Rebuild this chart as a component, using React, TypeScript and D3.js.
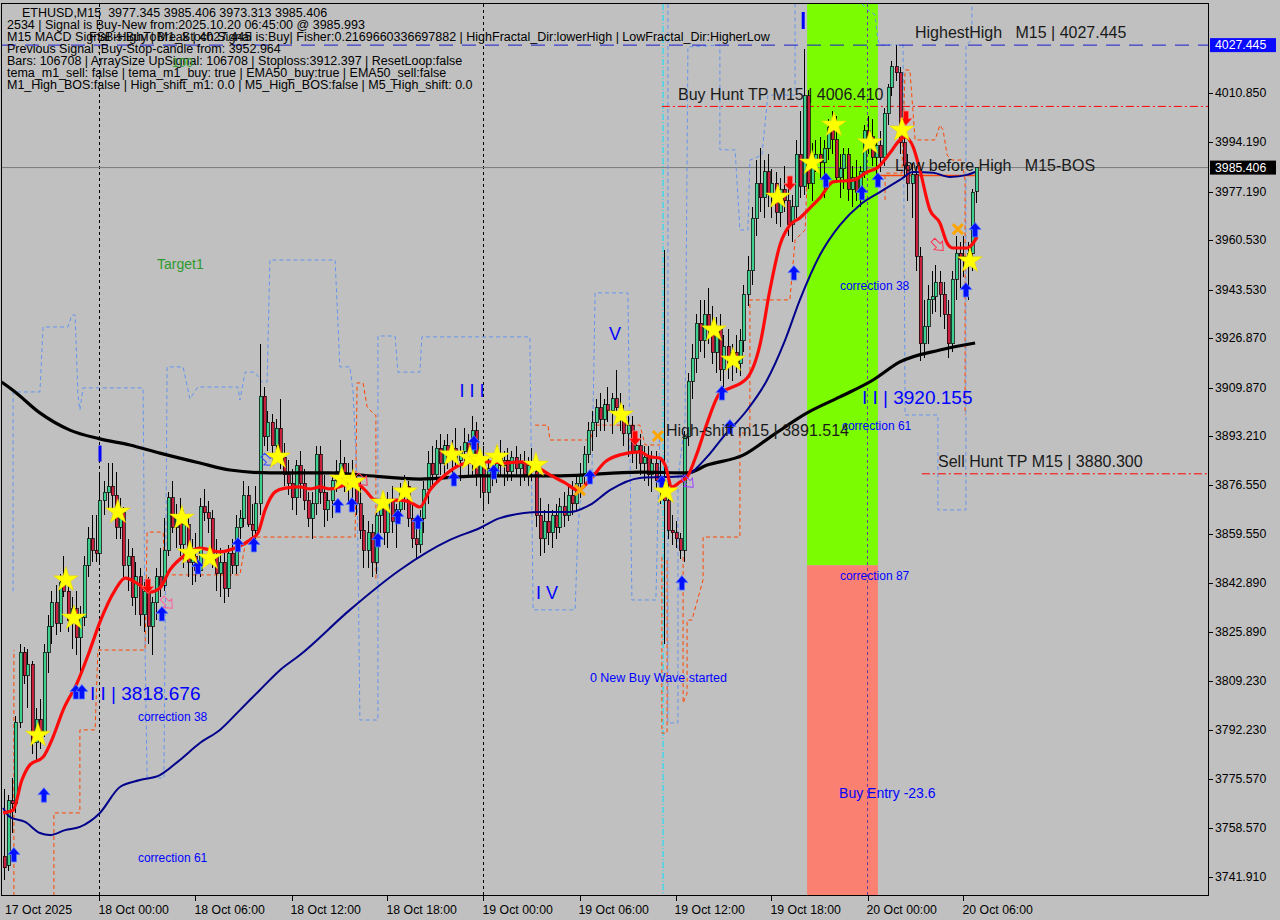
import React from "react";
import * as d3 from "d3";

// ---------- DATA ----------
type OHLC = [number, number, number, number];
const candles: OHLC[] = [
  [3749,3772,3741,3745],[3746,3770,3744,3768],[3768,3776,3757,3767],[3767,3797,3764,3795],[3795,3822,3793,3819],
  [3819,3821,3808,3811],[3811,3820,3800,3815],[3815,3816,3784,3788],[3788,3800,3782,3796],[3796,3803,3786,3792],
  [3792,3822,3790,3819],[3819,3832,3812,3828],[3828,3840,3822,3836],[3836,3842,3825,3829],[3829,3846,3826,3843],
  [3843,3852,3838,3840],[3840,3845,3826,3830],[3830,3838,3820,3834],[3834,3840,3818,3824],[3824,3835,3812,3831],
  [3831,3852,3828,3849],[3849,3862,3845,3858],[3858,3866,3850,3854],[3854,3866,3850,3853],[3853,3880,3850,3871],
  [3871,3878,3866,3874],[3874,3884,3868,3876],[3876,3884,3868,3873],[3873,3881,3858,3862],[3862,3872,3858,3867],
  [3867,3869,3845,3849],[3849,3858,3840,3852],[3852,3855,3835,3838],[3838,3850,3832,3845],[3845,3848,3828,3832],
  [3832,3843,3826,3840],[3840,3845,3822,3828],[3828,3838,3818,3836],[3836,3848,3830,3845],[3845,3855,3838,3842],
  [3842,3865,3840,3854],[3854,3874,3852,3872],[3872,3878,3860,3862],[3862,3870,3855,3866],[3866,3872,3852,3856],
  [3856,3868,3848,3863],[3863,3866,3845,3850],[3850,3858,3842,3852],[3852,3860,3843,3847],[3847,3872,3845,3869],
  [3869,3875,3864,3867],[3867,3871,3860,3865],[3865,3868,3848,3852],[3852,3858,3840,3846],[3846,3855,3838,3850],
  [3850,3853,3836,3841],[3841,3856,3838,3853],[3853,3858,3846,3849],[3849,3866,3846,3862],[3862,3868,3858,3865],
  [3865,3878,3862,3873],[3873,3876,3862,3863],[3863,3870,3856,3861],[3861,3876,3858,3870],[3870,3925,3866,3907],
  [3907,3910,3890,3893],[3893,3902,3888,3898],[3898,3901,3886,3890],[3890,3899,3884,3896],[3896,3906,3882,3886],
  [3886,3891,3876,3880],[3880,3885,3873,3877],[3877,3882,3868,3872],[3872,3885,3866,3883],[3883,3888,3872,3877],
  [3877,3882,3868,3871],[3871,3874,3862,3865],[3865,3874,3858,3870],[3870,3890,3866,3887],[3887,3890,3870,3874],
  [3874,3880,3862,3868],[3868,3874,3864,3871],[3871,3880,3865,3878],[3878,3885,3874,3881],[3881,3892,3876,3884],
  [3884,3886,3874,3877],[3877,3884,3870,3880],[3880,3885,3872,3876],[3876,3880,3866,3870],[3870,3879,3858,3861],
  [3861,3866,3848,3854],[3854,3864,3848,3860],[3860,3863,3845,3850],[3850,3868,3846,3866],[3866,3872,3860,3869],
  [3869,3872,3856,3860],[3860,3874,3855,3871],[3871,3876,3860,3864],[3864,3870,3855,3868],[3868,3877,3864,3874],
  [3874,3880,3868,3876],[3876,3878,3862,3865],[3865,3870,3855,3858],[3858,3862,3851,3856],[3856,3868,3853,3865],
  [3865,3878,3860,3875],[3875,3888,3870,3884],[3884,3890,3876,3880],[3880,3892,3877,3889],[3889,3894,3880,3884],
  [3884,3892,3880,3890],[3890,3894,3882,3886],[3886,3892,3878,3889],[3889,3896,3882,3885],[3885,3890,3878,3888],
  [3888,3896,3884,3891],[3891,3894,3880,3884],[3884,3900,3880,3895],[3895,3898,3876,3880],[3880,3888,3872,3884],
  [3884,3890,3868,3874],[3874,3886,3870,3882],[3882,3887,3876,3880],[3880,3890,3877,3886],[3886,3892,3880,3883],
  [3883,3888,3876,3885],[3885,3889,3878,3881],[3881,3888,3878,3886],[3886,3890,3880,3882],[3882,3887,3876,3884],
  [3884,3888,3878,3880],[3880,3886,3876,3883],[3883,3889,3878,3881],[3881,3885,3862,3866],[3866,3872,3852,3858],
  [3858,3868,3853,3864],[3864,3870,3856,3860],[3860,3868,3855,3866],[3866,3870,3858,3862],[3862,3872,3860,3869],
  [3869,3874,3862,3866],[3866,3876,3864,3873],[3873,3878,3866,3870],[3870,3880,3868,3877],[3877,3884,3872,3880],
  [3880,3890,3876,3887],[3887,3898,3884,3895],[3895,3902,3888,3898],[3898,3906,3893,3903],[3903,3908,3895,3899],
  [3899,3906,3895,3904],[3904,3910,3898,3902],[3902,3908,3894,3906],[3906,3916,3900,3903],[3903,3908,3895,3900],
  [3900,3904,3890,3894],[3894,3900,3886,3897],[3897,3900,3884,3888],[3888,3894,3882,3890],[3890,3894,3880,3884],
  [3884,3890,3878,3886],[3886,3890,3876,3880],[3880,3888,3874,3884],[3884,3888,3875,3878],[3878,3886,3870,3876],
  [3876,3957,3822,3871],[3871,3880,3858,3861],[3861,3866,3856,3860],[3860,3864,3855,3858],[3858,3860,3851,3854],
  [3854,3895,3850,3893],[3893,3915,3890,3912],[3912,3925,3906,3920],[3920,3935,3915,3932],[3932,3940,3922,3926],
  [3926,3940,3920,3935],[3935,3944,3925,3930],[3930,3938,3918,3922],[3922,3934,3915,3930],[3930,3935,3912,3916],
  [3916,3928,3910,3924],[3924,3930,3913,3918],[3918,3925,3912,3922],[3922,3928,3915,3918],[3918,3930,3914,3926],
  [3926,3945,3922,3942],[3942,3955,3938,3950],[3950,3972,3945,3968],[3968,3988,3962,3980],[3980,3992,3970,3975],
  [3975,3988,3968,3984],[3984,3990,3972,3976],[3976,3985,3968,3980],[3980,3984,3966,3970],[3970,3982,3965,3978],
  [3978,3986,3970,3974],[3974,3980,3962,3966],[3966,3976,3960,3972],[3972,3995,3968,3990],[3990,4005,3975,3979],
  [3979,4026,3976,4010],[4010,4012,3978,3980],[3980,3994,3974,3988],[3988,3995,3984,3990],[3990,3996,3982,3987],
  [3987,3995,3975,3992],[3992,4002,3988,3999],[3999,4005,3990,3995],[3995,4003,3980,3982],[3982,3990,3975,3985],
  [3985,3992,3978,3990],[3990,3992,3974,3978],[3978,3986,3972,3982],[3982,3988,3974,3977],[3977,3986,3972,3984],
  [3984,4000,3982,3998],[3998,4003,3990,3996],[3996,4002,3986,3989],[3989,3995,3980,3993],[3993,3998,3984,3989],
  [3989,4006,3986,4004],[4004,4014,4000,4013],[4013,4022,4010,4020],[4020,4027.4,4015,4018],[4018,4020,3990,3994],
  [3994,3998,3982,3986],[3986,3990,3974,3980],[3980,3987,3968,3983],[3983,3986,3950,3955],[3955,3958,3919,3925],
  [3925,3940,3920,3931],[3931,3945,3925,3940],[3940,3950,3935,3941],[3941,3952,3936,3946],[3946,3950,3934,3942],
  [3942,3946,3930,3935],[3935,3940,3920,3925],[3925,3950,3922,3947],[3947,3962,3940,3956],[3956,3960,3944,3954],
  [3954,3962,3948,3955],[3955,3960,3940,3956],[3956,3978,3950,3977],[3977.345,3985.406,3973.313,3985.406],
];

const priceTicks = [4010.85, 3994.19, 3977.19, 3960.53, 3943.53, 3926.87, 3909.87, 3893.21, 3876.55, 3859.55,
  3842.89, 3825.89, 3809.23, 3792.23, 3775.57, 3758.57, 3741.91];
const timeTickBars = [0, 24, 48, 72, 96, 120, 144, 168, 192, 216, 240];
const timeTickLabels = ["17 Oct 2025", "18 Oct 00:00", "18 Oct 06:00", "18 Oct 12:00", "18 Oct 18:00",
  "19 Oct 00:00", "19 Oct 06:00", "19 Oct 12:00", "19 Oct 18:00", "20 Oct 00:00", "20 Oct 06:00"];

// moving averages: [bar, price]
const ema200: [number, number][] = [[-0.5,3911.8],[2.9,3908.4],[9.1,3901.2],[16.6,3895.3],[24.1,3892.3],[31.6,3890.2],
  [39.1,3887.4],[49.1,3884.0],[56.6,3881.6],[66.6,3880.6],[81.6,3880.6],[89.1,3879.9],[104.1,3878.5],[119.1,3879.6],
  [139.1,3879.6],[159.1,3880.9],[170.9,3880.6],[175.9,3883.3],[184.9,3886.7],[192.4,3893.6],[200.9,3901.2],
  [209.1,3906.7],[217.4,3912.5],[224.1,3918.7],[234.1,3922.8],[242.9,3925.2]];
const ema50: [number, number][] = [[-0.1,3765.6],[1.6,3762.5],[5.4,3760.8],[9.1,3757.0],[11.6,3756.3],[15.4,3758.0],
  [19.1,3759.1],[24.1,3763.9],[29.1,3772.8],[34.1,3775.2],[39.1,3776.9],[44.1,3782.1],[49.1,3787.9],[54.1,3792.4],
  [59.1,3799.2],[64.1,3806.1],[69.1,3812.9],[74.1,3818.1],[86.6,3833.6],[99.1,3847.3],[111.6,3857.6],[119.1,3861.7],
  [124.1,3865.1],[134.1,3867.2],[141.6,3867.2],[146.6,3869.6],[151.6,3874.7],[159.1,3878.9],[169.9,3879.5],
  [175.9,3886.1],[179.9,3892.9],[185.9,3902.2],[190.9,3912.5],[195.4,3926.2],[199.1,3940.0],[204.1,3955.4],
  [209.1,3965.7],[214.1,3972.6],[219.1,3977.0],[224.1,3981.2],[227.4,3983.9],[232.4,3983.6],[236.6,3982.2],
  [240.9,3982.9],[242.9,3983.9]];
const emaFast: [number, number][] = [[-0.1,3763.9],[2.4,3764.9],[4.6,3775.2],[6.6,3780.4],[9.9,3783.1],[12.4,3790.0],
  [14.9,3799.2],[18.4,3808.5],[21.6,3819.8],[24.1,3829.4],[27.9,3840.4],[30.4,3844.5],[34.1,3842.1],[36.6,3839.7],
  [39.1,3841.1],[41.6,3847.3],[45.4,3852.4],[49.1,3854.8],[54.1,3853.5],[57.9,3854.8],[61.6,3857.6],[63.6,3860.0],
  [65.4,3867.9],[67.9,3874.1],[70.4,3875.4],[74.1,3875.8],[76.6,3875.1],[79.1,3875.8],[81.6,3875.1],[85.4,3876.5],
  [87.9,3877.2],[90.4,3874.7],[92.9,3871.3],[95.4,3871.0],[99.1,3871.3],[101.6,3870.6],[104.1,3868.9],[106.6,3874.7],
  [110.4,3879.9],[114.1,3883.3],[117.9,3884.4],[121.6,3884.4],[125.4,3884.0],[129.1,3884.4],[132.9,3883.0],
  [136.6,3879.9],[140.4,3877.2],[143.6,3874.7],[146.6,3878.2],[150.4,3884.4],[154.1,3886.8],[159.1,3887.8],
  [161.6,3886.1],[164.1,3885.7],[165.4,3883.3],[167.1,3875.8],[169.1,3877.5],[170.9,3879.2],[173.4,3887.4],
  [175.9,3897.7],[179.1,3908.0],[181.6,3909.7],[185.9,3913.2],[189.1,3924.5],[191.6,3943.4],[194.1,3958.8],
  [196.6,3965.7],[199.1,3968.1],[201.6,3971.5],[204.1,3975.0],[207.4,3980.5],[212.4,3981.1],[215.9,3983.9],
  [218.4,3985.3],[221.6,3990.4],[224.1,3994.9],[225.4,3995.9],[227.4,3992.5],[229.1,3984.6],[231.6,3970.9],
  [234.1,3966.4],[235.9,3959.5],[237.4,3957.8],[240.9,3957.8],[243.4,3961.6]];

// stepped channel lines [bar, price]
const blueSteps: [number, number][][] = [
  [[2.4,3840],[2.4,3908.4],[9.1,3908.4],[9.9,3930.7],[16.1,3930.7],[17.1,3934.8],[17.9,3934.8],[18.6,3907.4],[19.1,3902.2],
   [19.9,3909.8],[34.9,3909.8],[35.4,3819.8],[35.9,3775.9],[40.1,3775.9],[40.6,3857.6],[40.9,3917.0],[44.9,3917.0],
   [46.6,3906.0],[48.6,3910.1],[58.6,3910.1],[59.1,3905.6],[60.4,3915.2],[62.9,3915.2],[64.6,3911.8],[65.9,3911.8],
   [66.6,3953.7],[82.9,3953.7],[84.1,3917.0],[86.6,3917.0],[87.4,3908.4],[88.4,3878.2],[89.1,3795.8],[93.6,3795.8],
   [93.6,3927.6],[97.9,3927.6],[98.6,3915.2],[104.1,3915.2],[104.6,3927.3],[131.6,3927.3],[132.4,3833.6],[142.9,3833.6],
   [143.6,3861.0],[144.6,3878.2],[147.1,3878.2],[147.9,3942.4],[156.1,3942.4],[157.1,3837.0],[163.1,3837.0],[164.1,3895.3]],
  [[166.1,4041.6],[166.1,3794.8],[168.6,3794.8],[168.6,3878.2],[170.4,3898.8],[171.1,4026.8],[179.1,4027.5],[179.1,3991.5],
   [182.9,3991.5],[184.1,3964.0],[186.1,3964.0],[186.6,3988.0],[189.6,3989.7],[191.1,4010.3],[197.9,4010.3],[197.9,4041.6]],
  [[214.6,4041.6],[216.1,4039.5],[217.9,4037.8],[218.6,4029.2],[219.1,4027.5],[224.9,4027.5],[225.4,3900.5],[233.6,3900.5],
   [233.6,3867.9],[240.6,3867.9],[240.6,4027.5],[242.1,4029.2],[242.1,4041.6]],
];
const orangeSteps: [number, number][][] = [
  [[2.6,3735.4],[2.6,3819.8]],
  [[12.6,3735.4],[12.6,3763.9],[19.1,3763.9],[19.1,3792.4],[22.9,3792.4],[23.6,3819.8],[35.4,3819.8],[35.9,3860.3],
   [39.9,3860.3],[40.4,3845.6],[59.1,3845.6],[60.4,3855.9],[63.6,3858.6],[87.9,3858.6],[88.4,3911.5],[89.9,3911.5],
   [90.9,3903.2],[92.9,3900.5],[93.1,3900.5],[93.1,3843.9]],
  [[132.9,3897.0],[136.1,3897.0],[136.6,3891.9],[146.6,3891.9],[147.9,3897.0],[159.1,3897.0],[160.4,3890.2],[164.1,3890.2]],
  [[164.6,3851.7],[164.6,3791.3],[165.9,3791.3],[165.9,3851.7]],
  [[169.9,3851.7],[169.9,3801.6],[170.9,3805.0],[170.9,3830.1],[172.1,3830.1],[174.9,3843.9],[174.9,3858.6],[184.1,3858.6],
   [184.1,3894.3],[186.6,3894.3],[186.6,3940.0],[196.6,3940.0],[197.9,3960.6],[200.4,3964.0],[201.1,3988.0]],
  [[220.4,3974.3],[220.4,3983.5],[224.6,3983.5],[225.4,4018.9],[226.6,4018.9],[227.9,3994.9],[232.9,3994.9],[234.1,4000.0],
   [234.9,3998.3],[235.9,3989.7],[237.1,3988.0],[239.6,3988.0],[240.4,3981.1],[240.4,3900.5]],
];

// signal markers [bar, price]
const stars: [number, number][] = [[8.6,3790.6],[15.6,3843.9],[17.6,3830.8],[28.6,3867.2],[44.6,3865.1],[46.6,3853.1],
  [51.6,3851.4],[68.6,3886.1],[84.6,3878.5],[87.4,3877.5],[94.9,3870.3],[100.4,3874.1],[112.1,3886.8],[116.6,3885.7],
  [119.1,3885.0],[123.4,3886.1],[133.1,3883.3],[154.4,3900.5],[165.6,3874.1],[177.6,3929.7],[182.4,3919.4],
  [193.6,3975.3],[202.1,3987.0],[207.6,4000.0],[216.6,3993.9],[224.6,3998.3],[241.6,3953.4]];
const upArrows: [number, number][] = [[2.6,3749.5],[10.1,3770.0],[18.1,3805.4],[19.6,3805.4],[39.6,3832.2],[48.6,3848.3],
  [58.6,3855.9],[62.6,3855.9],[83.6,3869.3],[87.1,3869.6],[93.6,3857.6],[98.6,3865.5],[103.6,3863.8],[112.6,3878.5],
  [117.6,3890.9],[122.6,3880.9],[146.6,3879.2],[164.6,3877.2],[169.6,3842.8],[179.6,3908.0],[181.6,3896.4],
  [197.6,3949.2],[205.6,3981.1],[214.6,3976.7],[218.6,3981.1],[240.6,3943.4],[242.9,3964.0]];
const downArrows: [number, number][] = [[36.1,3841.8],[157.9,3892.6],[196.6,3980.1],[225.6,4002.4]];
const crosses: [number, number][] = [[144.1,3874.7],[163.6,3893.3],[238.6,3964.3]];
const hollowMarks: [number, number, string][] = [[66.1,3885.0,"#3050ff"],[89.6,3878.2,"#ff3050"],[233.6,3958.8,"#ff3050"],
  [171.1,3877.5,"#a040ff"],[40.9,3836.0,"#ff60a0"]];

// levels
const highestHigh = 4027.445;
const buyHuntTP = 4006.41;
const sellHuntTP = 3880.3;
const lastPrice = 3985.406;
const lowBeforeHigh = 3982.7;
const zoneBars = [200.9, 218.6];
const zoneSplit = 3848.9;

const NB = "\u00A0";
const headerLines = [
  "2534 | Signal is Buy-New from:2025.10.20 06:45:00 @ 3985.993",
  "M15 MACD Signal is:Buy | M1_Stoch Signal is:Buy| Fisher:0.2169660336697882 | HighFractal_Dir:lowerHigh | LowFractal_Dir:HigherLow",
  "Previous Signal :Buy-Stop-candle from: 3952.964",
  "Bars: 106708 | ArraySize UpSignal: 106708 | Stoploss:3912.397 | ResetLoop:false",
  "tema_m1_sell: false | tema_m1_buy: true | EMA50_buy:true | EMA50_sell:false",
  "M1_High_BOS:false | High_shift_m1: 0.0 | M5_High_BOS:false | M5_High_shift: 0.0",
];

const FONT = "'Liberation Sans', Arial, sans-serif";

export default function App() {
  const W = 1280, H = 920;
  const L = 2, T = 4, R = 1209, B = 896;
  const x = d3.scaleLinear().domain([0, 243]).range([3.5, 975.5]);
  const y = d3.scaleLinear().domain([3741.91, 3994.19]).range([877, 142]);
  const smooth = d3.line<[number, number]>().x(d => x(d[0])).y(d => y(d[1])).curve(d3.curveMonotoneX);
  const poly = d3.line<[number, number]>().x(d => x(d[0])).y(d => y(d[1]));
  const starPath = d3.symbol().type(d3.symbolStar).size(190)() as string;
  const upPath = "M0,-7.5 L6,-0.5 L2.6,-0.5 L2.6,7 L-2.6,7 L-2.6,-0.5 L-6,-0.5 Z";
  const fmt = d3.format(".3f");

  return (
    <svg width={W} height={H} style={{ position: "absolute", left: 0, top: 0 }} fontFamily={FONT}>
      <defs>
        <clipPath id="plot"><rect x={L} y={T} width={R - L} height={B - T} /></clipPath>
      </defs>
      <rect x={0} y={0} width={W} height={H} fill="#c0c0c0" />
      <g clipPath="url(#plot)">
        {/* zone */}
        <rect x={x(zoneBars[0])} y={T} width={x(zoneBars[1]) - x(zoneBars[0])} height={y(zoneSplit) - T} fill="#7cfc00" />
        <rect x={x(zoneBars[0])} y={y(zoneSplit)} width={x(zoneBars[1]) - x(zoneBars[0])} height={B - y(zoneSplit)} fill="#fa8072" />
        {/* period separators */}
        {[24, 120].map(b => (
          <line key={b} x1={x(b)} x2={x(b)} y1={T} y2={B} stroke="#000" strokeDasharray="3,3" strokeWidth={1} />
        ))}
        <line x1={x(216)} x2={x(216)} y1={T} y2={B} stroke="#6a3d9a" strokeDasharray="3,3" />
        <line x1={x(164.9)} x2={x(164.9)} y1={T} y2={B} stroke="#00e5ff" strokeDasharray="6,2,1,2" />
        {/* last price line */}
        <line x1={L} x2={R} y1={y(lastPrice)} y2={y(lastPrice)} stroke="#7a7a7a" strokeWidth={1} />
        {/* step lines */}
        {blueSteps.map((s, i) => (
          <path key={"b" + i} d={poly(s) as string} fill="none" stroke="#6495ed" strokeWidth={1} strokeDasharray="4,3" />
        ))}
        {orangeSteps.map((s, i) => (
          <path key={"o" + i} d={poly(s) as string} fill="none" stroke="#ff4500" strokeWidth={1} strokeDasharray="4,3" />
        ))}
        {/* levels */}
        <line x1={L} x2={R} y1={y(highestHigh)} y2={y(highestHigh)} stroke="#1a1acc" strokeWidth={1} strokeDasharray="14,9" />
        <line x1={x(164.6)} x2={R} y1={y(buyHuntTP)} y2={y(buyHuntTP)} stroke="#ff0000" strokeDasharray="8,3,2,3" />
        <line x1={x(229.6)} x2={R} y1={y(sellHuntTP)} y2={y(sellHuntTP)} stroke="#ff0000" strokeDasharray="8,3,2,3" />
        <line x1={x(218.4)} x2={x(243)} y1={y(lowBeforeHigh)} y2={y(lowBeforeHigh)} stroke="#ff4500" strokeWidth={1.5} />
        {/* candles */}
        <g shapeRendering="crispEdges">
          {candles.map((c, i) => {
            const [o, h, l, cl] = c;
            const cx = Math.round(x(i)) + 0.5;
            const top = y(Math.max(o, cl)), bot = y(Math.min(o, cl));
            return (
              <g key={i}>
                <line x1={cx} x2={cx} y1={y(h)} y2={y(l)} stroke="#000" strokeWidth={1} />
                <rect x={cx - 1.5} y={top} width={3} height={Math.max(1, bot - top)}
                  fill={cl >= o ? "#3ccf8e" : "#c8203c"} stroke="#000" strokeWidth={0.7} />
              </g>
            );
          })}
        </g>
        {/* moving averages */}
        <path d={smooth(ema200) as string} fill="none" stroke="#000" strokeWidth={3.2} />
        <path d={smooth(ema50) as string} fill="none" stroke="#00008b" strokeWidth={2} />
        <path d={smooth(emaFast) as string} fill="none" stroke="#ff0a0a" strokeWidth={3.2} />
        {/* markers */}
        {hollowMarks.map((m, i) => (
          <path key={"h" + i} transform={`translate(${x(m[0])},${y(m[1])}) rotate(135)`} d={upPath} fill="none"
            stroke={m[2]} strokeWidth={1} />
        ))}
        {crosses.map((c, i) => (
          <path key={"x" + i} transform={`translate(${x(c[0])},${y(c[1])})`} d="M-5,-5L5,5M5,-5L-5,5" stroke="#ffa500" strokeWidth={3} />
        ))}
        {upArrows.map((a, i) => (
          <path key={"u" + i} transform={`translate(${x(a[0])},${y(a[1])})`} d={upPath} fill="#0010ff" stroke="#5a78ff" strokeWidth={0.8} />
        ))}
        {downArrows.map((a, i) => (
          <path key={"d" + i} transform={`translate(${x(a[0])},${y(a[1])}) rotate(180)`} d={upPath} fill="#ff0000" stroke="#ff7070" strokeWidth={0.8} />
        ))}
        {stars.map((s, i) => (
          <path key={"s" + i} transform={`translate(${x(s[0])},${y(s[1])})`} d={starPath} fill="#ffff00" stroke="#e8d000" strokeWidth={0.5} />
        ))}
        {/* wave marks */}
        <rect x={x(24) - 1} y={y(3890)} width={3} height={16} fill="#0000ff" />
        <rect x={x(199.8) - 1} y={12} width={3} height={17} fill="#0000ff" />
        <g fill="#0000ff" fontSize={18}>
          <text x={x(114)} y={y(3906.6)}>{`I${NB}I${NB}I`}</text>
          <text x={x(151.4)} y={y(3926.4)}>V</text>
          <text x={x(133.1)} y={y(3837.3)}>{`I${NB}V`}</text>
        </g>
        <g fill="#0000ff" fontSize={19}>
          <text x={x(21.6)} y={y(3802.7)}>{`I${NB}I${NB}|${NB}3818.676`}</text>
          <text x={x(214.6)} y={y(3904.1)}>{`I${NB}I${NB}|${NB}3920.155`}</text>
        </g>
        <g fill="#0000ff" fontSize={12}>
          <text x={x(33.6)} y={y(3795.5)}>correction 38</text>
          <text x={x(33.6)} y={y(3747)}>correction 61</text>
          <text x={x(209.1)} y={y(3943.4)}>correction 38</text>
          <text x={x(209.6)} y={y(3895.3)}>correction 61</text>
          <text x={x(209.1)} y={y(3843.9)}>correction 87</text>
          <text x={x(146.6)} y={y(3808.9)} fontSize={12.5}>0 New Buy Wave started</text>
          <text x={x(208.9)} y={y(3769)} fontSize={14}>Buy Entry -23.6</text>
        </g>
        <text x={157} y={269} fill="#2e9a2e" fontSize={14}>Target1</text>
        <g fill="#1a1a1a" fontSize={16}>
          <text x={915} y={y(highestHigh) - 7}>{`HighestHigh${NB}${NB}${NB}M15 | 4027.445`}</text>
          <text x={678} y={y(buyHuntTP) - 6}>Buy Hunt TP M15 | 4006.410</text>
          <text x={895} y={y(lastPrice) + 3}>{`Low before High${NB}${NB}${NB}M15-BOS`}</text>
          <text x={938} y={y(sellHuntTP) - 7}>Sell Hunt TP M15 | 3880.300</text>
          <text x={666} y={436}>High-shift m15 | 3891.514</text>
        </g>
      </g>
      {/* header text */}
      <g fontSize={12.5} fill="#000">
        <text x={22} y={17}>{`ETHUSD,M15${NB}${NB}3977.345 3985.406 3973.313 3985.406`}</text>
        {headerLines.map((t, i) => (
          <text key={i} x={7} y={29 + i * 12}>{t}</text>
        ))}
        <text x={89} y={41}>FSB-HighToBreak | 4027.445</text>
        <text x={172} y={67} fill="#2ea02e">100</text>
      </g>
      {/* frame */}
      <rect x={L - 0.5} y={T - 0.5} width={R - L} height={B - T} fill="none" stroke="#000" strokeWidth={1} />
      {/* price axis */}
      <g fontSize={12.3} fill="#000">
        {priceTicks.map(p => (
          <g key={p}>
            <line x1={R} x2={R + 4} y1={Math.round(y(p)) + 0.5} y2={Math.round(y(p)) + 0.5} stroke="#000" />
            <text x={R + 6} y={y(p) + 4}>{fmt(p)}</text>
          </g>
        ))}
        <rect x={R + 1} y={y(highestHigh) - 7} width={66} height={14} fill="#0a0aff" />
        <text x={R + 6} y={y(highestHigh) + 4} fill="#fff">{fmt(highestHigh)}</text>
        <rect x={R + 1} y={y(lastPrice) - 7} width={66} height={14} fill="#000" />
        <text x={R + 6} y={y(lastPrice) + 4} fill="#fff">{fmt(lastPrice)}</text>
      </g>
      {/* time axis */}
      <g fontSize={12.3} fill="#000">
        {timeTickBars.map((b, i) => (
          <g key={b}>
            {i > 0 && <line x1={Math.round(x(b)) + 0.5} x2={Math.round(x(b)) + 0.5} y1={B} y2={B + 5} stroke="#000" />}
            <text x={i === 0 ? 5 : x(b) - 1} y={914}>{timeTickLabels[i]}</text>
          </g>
        ))}
      </g>
    </svg>
  );
}
